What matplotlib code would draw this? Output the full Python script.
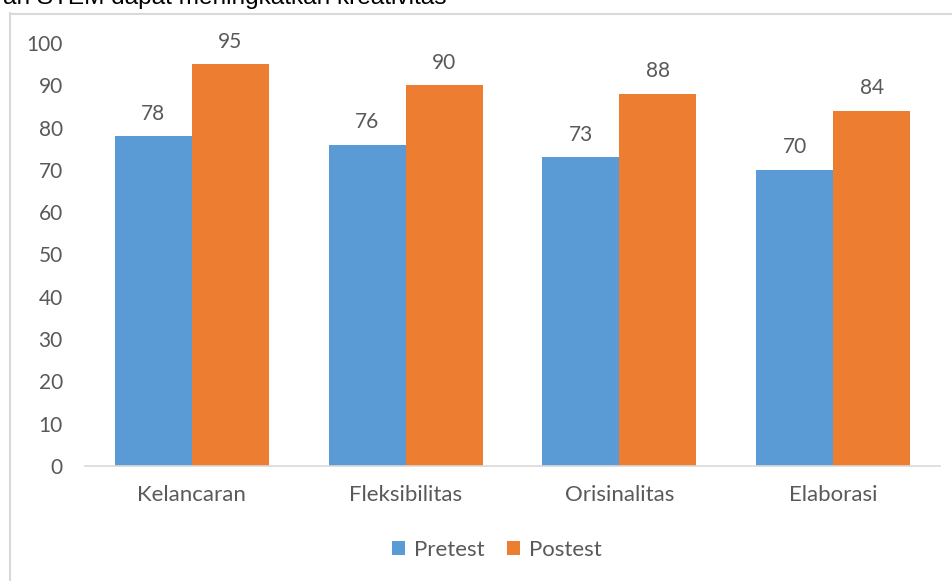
import matplotlib
matplotlib.use("Agg")
import matplotlib.pyplot as plt
from matplotlib.lines import Line2D
import numpy as np

categories = ["Kelancaran", "Fleksibilitas", "Orisinalitas", "Elaborasi"]
pretest = [78, 76, 73, 70]
postest = [95, 90, 88, 84]
series_names = ["Pretest", "Postest"]
yticks = [0, 10, 20, 30, 40, 50, 60, 70, 80, 90, 100]
caption = "Pembelajaran STEM dapat meningkatkan kreativitas"

W, H = 953, 581
fig = plt.figure(figsize=(W / 100, H / 100), dpi=100)
FONT = ["Lato", "DejaVu Sans"]
GRAY = "#595959"
BLUE = "#5B9BD5"
ORANGE = "#ED7D31"

def fx(px):
    return px / W

def fy(py):
    return 1 - py / H

# chart border (partially visible)
fig.add_artist(Line2D([fx(10), fx(10)], [fy(13), fy(600)], color="#d9d9d9", lw=1.5, transform=fig.transFigure))
fig.add_artist(Line2D([fx(10), fx(960)], [fy(14), fy(14)], color="#d9d9d9", lw=1.5, transform=fig.transFigure))

# cropped caption (cut at the top edge, as in the reference)
fig.text(fx(447), fy(4), caption, ha="right", va="baseline", fontsize=17.6,
         family=["Liberation Sans", "DejaVu Sans"], color="black")

ax = fig.add_axes([fx(85), fy(466), fx(940) - fx(85), (466 - 43) / H])
x = np.arange(len(categories))
w = 0.36
b1 = ax.bar(x - w / 2, pretest, w, color=BLUE, label=series_names[0])
b2 = ax.bar(x + w / 2, postest, w, color=ORANGE, label=series_names[1])

for bars, vals in ((b1, pretest), (b2, postest)):
    for r, v in zip(bars, vals):
        ax.annotate(str(v), (r.get_x() + r.get_width() / 2, v), xytext=(0, 9),
                    textcoords="offset points", ha="center", va="bottom",
                    fontsize=15, color=GRAY, family=FONT)

ax.set_xlim(-0.5, len(categories) - 0.5)
ax.set_ylim(0, 100)
ax.set_yticks(yticks)
ax.set_yticklabels([str(t) for t in yticks])
ax.set_xticks(x)
ax.set_xticklabels(categories)
for s in ("top", "right", "left"):
    ax.spines[s].set_visible(False)
ax.spines["bottom"].set_color("#d9d9d9")
ax.spines["bottom"].set_linewidth(1.2)
ax.tick_params(axis="both", length=0, colors=GRAY)
ax.tick_params(axis="y", pad=16, labelsize=15)
ax.tick_params(axis="x", pad=14, labelsize=16)
for lab in ax.get_xticklabels() + ax.get_yticklabels():
    lab.set_family(FONT)

leg = fig.legend(handles=[b1, b2], loc="center", bbox_to_anchor=(fx(497), fy(550)),
                 ncol=2, frameon=False, handlelength=0.6, handleheight=0.6,
                 handletextpad=0.4, columnspacing=1.0,
                 prop={"family": FONT, "size": 16})
for t in leg.get_texts():
    t.set_color(GRAY)

fig.savefig("out.png", dpi=100)
